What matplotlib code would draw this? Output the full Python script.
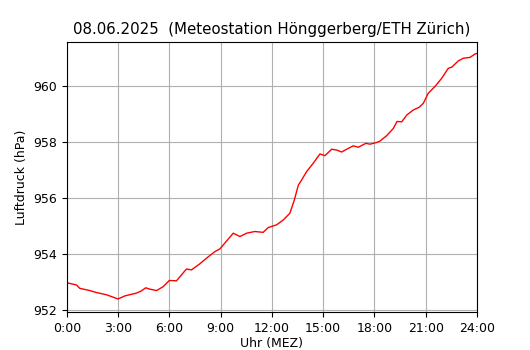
import numpy as np
import matplotlib
matplotlib.use("Agg")
import matplotlib.pyplot as plt

# Stunden seit Mitternacht und Luftdruck (hPa)
stunden = [0.0, 0.57, 0.76, 1.35, 1.74, 2.32, 2.69, 3.0, 3.4, 4.08, 4.37, 4.62,
           4.86, 5.25, 5.64, 6.0, 6.42, 7.0, 7.3, 7.79, 8.18, 8.66, 8.96, 9.35,
           9.74, 10.13, 10.52, 11.0, 11.49, 11.78, 12.28, 12.66, 13.05, 13.3,
           13.55, 13.74, 14.03, 14.42, 14.81, 15.1, 15.5, 15.79, 16.08, 16.47,
           16.76, 17.05, 17.5, 17.74, 18.13, 18.32, 18.71, 19.1, 19.32, 19.6,
           19.89, 20.27, 20.62, 20.86, 21.15, 21.54, 21.93, 22.32, 22.52, 22.9,
           23.2, 23.59, 23.88, 24.0]
druck = [952.97, 952.89, 952.77, 952.69, 952.62, 952.54, 952.46, 952.39, 952.50,
         952.60, 952.68, 952.79, 952.74, 952.69, 952.83, 953.05, 953.04, 953.46,
         953.43, 953.65, 953.85, 954.08, 954.18, 954.46, 954.74, 954.62, 954.74,
         954.80, 954.77, 954.94, 955.04, 955.21, 955.45, 955.9, 956.46, 956.64,
         956.94, 957.24, 957.57, 957.51, 957.74, 957.71, 957.64, 957.77, 957.86,
         957.81, 957.95, 957.92, 957.98, 958.03, 958.22, 958.48, 958.73, 958.72,
         958.96, 959.14, 959.24, 959.38, 959.74, 959.98, 960.27, 960.63, 960.67,
         960.89, 960.99, 961.02, 961.14, 961.16]

xticks = list(range(0, 25, 3))
xlabels = [f"{h}:00" for h in xticks]
yticks = [952, 954, 956, 958, 960]

fig = plt.figure(figsize=(5.3, 3.5), dpi=100)
ax = fig.add_axes([0.126, 0.109, 0.774, 0.771])
ax.plot(stunden, druck, color="red", linewidth=1)
ax.set_xlim(0, 24)
ax.set_ylim(951.93, 961.57)
ax.set_xticks(xticks)
ax.set_xticklabels(xlabels)
ax.set_yticks(yticks)
ax.tick_params(labelsize=9)
ax.grid(True, color="#b0b0b0", linewidth=0.8)
ax.set_axisbelow(True)
ax.set_xlabel("Uhr (MEZ)", fontsize=9, labelpad=2)
ax.set_ylabel("Luftdruck (hPa)", fontsize=9)
ax.set_title("08.06.2025  (Meteostation Hönggerberg/ETH Zürich)", fontsize=10.8)
fig.savefig("out.png")
